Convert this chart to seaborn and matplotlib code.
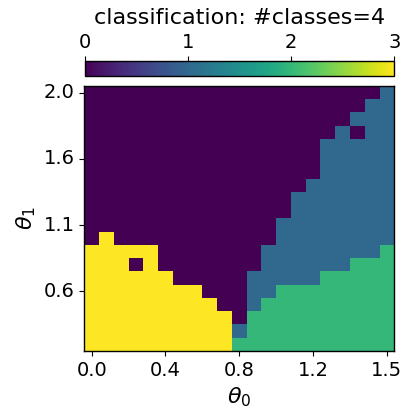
import numpy as np
import matplotlib
matplotlib.use("Agg")
import matplotlib.pyplot as plt
import seaborn as sns

# class per cell (row 0 = top, theta_1 = 2.0)
rows = [
    "000000000000000000001",
    "000000000000000000011",
    "000000000000000000111",
    "000000000000000001011",
    "000000000000000011111",
    "000000000000000011111",
    "000000000000000011111",
    "000000000000000111111",
    "000000000000001111111",
    "000000000000001111111",
    "000000000000011111111",
    "030000000000011111111",
    "333330000000111111112",
    "333030000000111111222",
    "333333000001111122222",
    "333333330001122222222",
    "333333333001222222222",
    "333333333302222222222",
    "333333333312222222222",
    "333333333322222222222",
]
grid = np.array([[int(c) for c in r] for r in rows])

x_tick_pos = [0, 5, 10, 15, 20]
x_tick_labels = ["0.0", "0.4", "0.8", "1.2", "1.5"]
y_tick_pos = [0, 5, 10, 15]
y_tick_labels = ["2.0", "1.6", "1.1", "0.6"]
cbar_ticks = [0, 1, 2, 3]

plt.rcParams["font.size"] = 14

fig = plt.figure(figsize=(4.14, 4.2), dpi=100)
ax = fig.add_axes([0.2036, 0.1643, 0.7488, 0.631])
cax = fig.add_axes([0.2046, 0.818, 0.748, 0.0357])

sns.heatmap(
    grid,
    cmap="viridis",
    vmin=0,
    vmax=3,
    ax=ax,
    cbar_ax=cax,
    cbar_kws={"orientation": "horizontal"},
)

ax.set_xticks([p + 0.5 for p in x_tick_pos])
ax.set_xticklabels(x_tick_labels, rotation=0, fontsize=14)
ax.set_yticks([p + 0.5 for p in y_tick_pos])
ax.set_yticklabels(y_tick_labels, rotation=0, fontsize=14)
ax.set_xlabel(r"$\theta_0$", fontsize=16)
ax.set_ylabel(r"$\theta_1$", fontsize=16)
for s in ax.spines.values():
    s.set_visible(True)
    s.set_color("black")
    s.set_linewidth(1.0)

cb = ax.collections[0].colorbar
cb.set_ticks(cbar_ticks)
cb.outline.set_linewidth(1.0)
cb.outline.set_edgecolor("black")
cax.tick_params(labelsize=14)
cax.xaxis.set_ticks_position("top")
cax.xaxis.set_label_position("top")
cax.set_title("classification: #classes=4", fontsize=16)

fig.savefig("out.png", dpi=100)
